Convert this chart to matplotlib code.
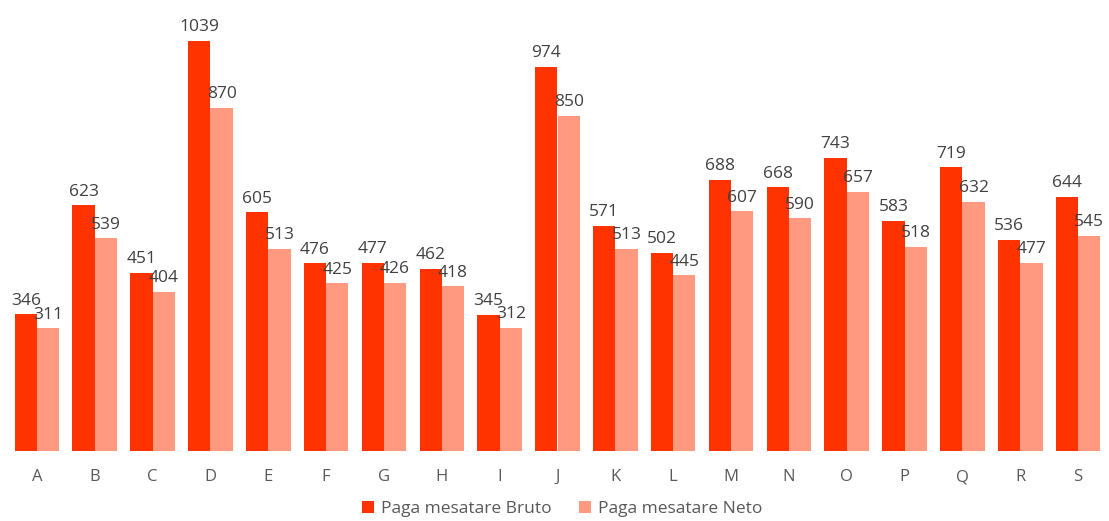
import matplotlib.pyplot as plt
import numpy as np

plt.rcParams['font.family'] = ['Open Sans', 'DejaVu Sans']

categorii = ['A', 'B', 'C', 'D', 'E', 'F', 'G', 'H', 'I', 'J',
             'K', 'L', 'M', 'N', 'O', 'P', 'Q', 'R', 'S']
bruto = [346, 623, 451, 1039, 605, 476, 477, 462, 345, 974,
         571, 502, 688, 668, 743, 583, 719, 536, 644]
neto = [311, 539, 404, 870, 513, 425, 426, 418, 312, 850,
        513, 445, 607, 590, 657, 518, 632, 477, 545]

fig = plt.figure(figsize=(11.09, 5.21), dpi=100)
ax = fig.add_axes([8 / 1109, 70 / 521, 1099 / 1109, 451 / 521])

x = np.arange(len(categorii))
w = 0.385
b1 = ax.bar(x - w / 2, bruto, w, color='#ff3300', label='Paga mesatare Bruto')
b2 = ax.bar(x + w / 2, neto, w, color='#ff9980', label='Paga mesatare Neto')

# etichete deasupra barelor
for bars in (b1, b2):
    ax.bar_label(bars, padding=4, fontsize=12.5, color='#404040')

ax.set_xlim(-0.5, len(categorii) - 0.5)
ax.set_ylim(0, 1143)
ax.set_xticks(x)
ax.set_xticklabels(categorii, fontsize=12, color='#595959')
ax.tick_params(axis='x', length=0, pad=13)
ax.set_yticks([])
for s in ax.spines.values():
    s.set_visible(False)

fig.legend(loc='center', bbox_to_anchor=(562 / 1109, 12 / 521), ncol=2,
           frameon=False, fontsize=12.5, handlelength=0.7, handleheight=0.7,
           columnspacing=1.6, handletextpad=0.4, labelcolor='#595959')

fig.savefig('out.png', dpi=100)
